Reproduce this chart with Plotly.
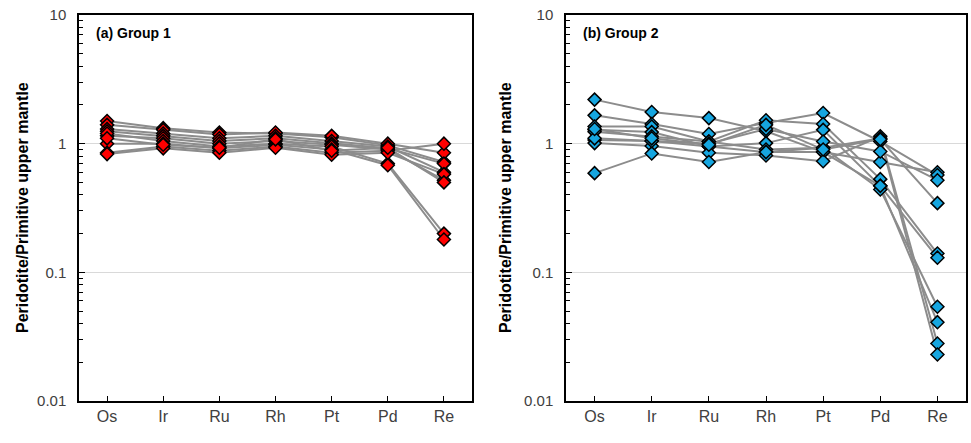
import plotly.graph_objects as go

elements = ["Os", "Ir", "Ru", "Rh", "Pt", "Pd", "Re"]

# Group 1 samples (normalized to primitive upper mantle)
g1_s1 = [1.50, 1.32, 1.22, 1.20, 1.12, 0.97, 0.72]
g1_s2 = [1.40, 1.28, 1.18, 1.22, 1.15, 1.00, 0.85]
g1_s3 = [1.30, 1.20, 1.10, 1.15, 1.05, 0.95, 0.60]
g1_s4 = [1.25, 1.15, 1.05, 1.10, 1.00, 0.92, 0.70]
g1_s5 = [1.15, 1.10, 1.00, 1.05, 0.98, 0.90, 0.52]
g1_s6 = [1.20, 1.05, 0.95, 1.00, 0.95, 0.70, 0.20]
g1_s7 = [1.00, 1.00, 0.92, 0.98, 0.90, 0.68, 0.18]
g1_s8 = [0.85, 0.95, 0.88, 0.95, 0.85, 0.88, 1.00]
g1_s9 = [0.83, 0.92, 0.85, 0.93, 0.82, 0.85, 0.58]
g1_s10 = [1.10, 0.98, 0.93, 1.08, 0.88, 0.93, 0.50]

# Group 2 samples
g2_s1 = [2.20, 1.76, 1.58, 1.25, 0.86, 0.72, 0.60]
g2_s2 = [1.66, 1.42, 1.19, 1.45, 1.73, 1.04, 0.57]
g2_s3 = [1.36, 1.36, 1.04, 1.52, 1.42, 0.53, 0.14]
g2_s4 = [1.28, 1.23, 0.95, 1.01, 1.28, 0.47, 0.13]
g2_s5 = [1.24, 1.14, 1.04, 0.90, 0.93, 0.44, 0.054]
g2_s6 = [1.07, 1.05, 0.95, 0.86, 0.86, 0.47, 0.041]
g2_s7 = [1.01, 0.96, 0.85, 0.81, 0.73, 1.14, 0.028]
g2_s8 = [0.59, 0.84, 0.72, 0.86, 0.93, 1.10, 0.023]
g2_s9 = [1.10, 1.05, 1.00, 1.30, 1.04, 0.87, 0.52]
g2_s10 = [1.30, 1.10, 0.98, 1.40, 0.90, 1.08, 0.345]

group1 = [g1_s1, g1_s2, g1_s3, g1_s4, g1_s5, g1_s6, g1_s7, g1_s8, g1_s9, g1_s10]
group2 = [g2_s1, g2_s2, g2_s3, g2_s4, g2_s5, g2_s6, g2_s7, g2_s8, g2_s9, g2_s10]

y_major = [0.01, 0.1, 1, 10]
y_major_text = ["0.01", "0.1", "1", "10"]
y_minor = [m * d for d in (0.01, 0.1, 1) for m in range(2, 10)]

fig = go.Figure()

def add_group(series, fill, xa, ya):
    for s in series:
        fig.add_trace(go.Scatter(x=elements, y=s, mode="lines", xaxis=xa, yaxis=ya,
                                 line=dict(color="#8C8C8C", width=2), showlegend=False,
                                 hoverinfo="skip"))
    for s in series:
        fig.add_trace(go.Scatter(x=elements, y=s, mode="markers", xaxis=xa, yaxis=ya,
                                 marker=dict(symbol="diamond", size=10, color=fill,
                                             line=dict(color="black", width=1.5)),
                                 showlegend=False))

add_group(group1, "#FF0000", "x", "y")
add_group(group2, "#16A6E0", "x2", "y2")

W, H = 971, 443
top, bottom = 15, 401
ydom = [1 - bottom / H, 1 - top / H]
panels = [(79, 472), (566, 966)]

axis_common = dict(showline=True, linecolor="black", linewidth=1.5, mirror=True, automargin=False)
xcommon = dict(axis_common, type="category", categoryorder="array", categoryarray=elements,
               range=[-0.5, 6.5], ticks="inside", ticklen=5, tickcolor="black",
               showgrid=False, tickfont=dict(family="Liberation Sans, Arial", size=16, color="#404040"))
ycommon = dict(axis_common, type="log", range=[-2, 1], tickmode="array", tickvals=y_major,
               ticktext=y_major_text, ticks="inside", ticklen=6, tickcolor="black",
               showgrid=True, gridcolor="#D9D9D9", gridwidth=1, zeroline=False,
               ticklabelstandoff=8, ticklabeloverflow="allow",
               tickfont=dict(family="Liberation Sans, Arial", size=15, color="#404040"),
               minor=dict(tickmode="array", tickvals=y_minor, ticks="inside", ticklen=4,
                          tickcolor="black", showgrid=False))

fig.update_layout(
    width=W, height=H, margin=dict(l=0, r=0, t=0, b=0, autoexpand=False),
    plot_bgcolor="white", paper_bgcolor="white",
    xaxis=dict(xcommon, domain=[panels[0][0] / W, panels[0][1] / W], anchor="y"),
    yaxis=dict(ycommon, domain=ydom, anchor="x"),
    xaxis2=dict(xcommon, domain=[panels[1][0] / W, panels[1][1] / W], anchor="y2"),
    yaxis2=dict(ycommon, domain=ydom, anchor="x2"),
)

labels = ["(a) Group 1", "(b) Group 2"]
title_x = [22, 505]
for (x0, x1), lab, tx in zip(panels, labels, title_x):
    fig.add_annotation(text="<b>" + lab + "</b>", xref="paper", yref="paper",
                       x=(x0 + 15) / W, y=1 - 33 / H, xanchor="left", yanchor="middle",
                       showarrow=False,
                       font=dict(family="Liberation Sans, Arial", size=14, color="black"))
    fig.add_annotation(text="<b>Peridotite/Primitive upper mantle</b>", xref="paper", yref="paper",
                       x=tx / W, y=1 - (top + bottom) / 2 / H, textangle=-90,
                       xanchor="center", yanchor="middle", showarrow=False,
                       font=dict(family="Liberation Sans, Arial", size=16, color="black"))

fig.write_html("out.html", config={"displayModeBar": False},
               post_script="document.body.style.margin='0px';document.body.style.overflow='hidden';")
